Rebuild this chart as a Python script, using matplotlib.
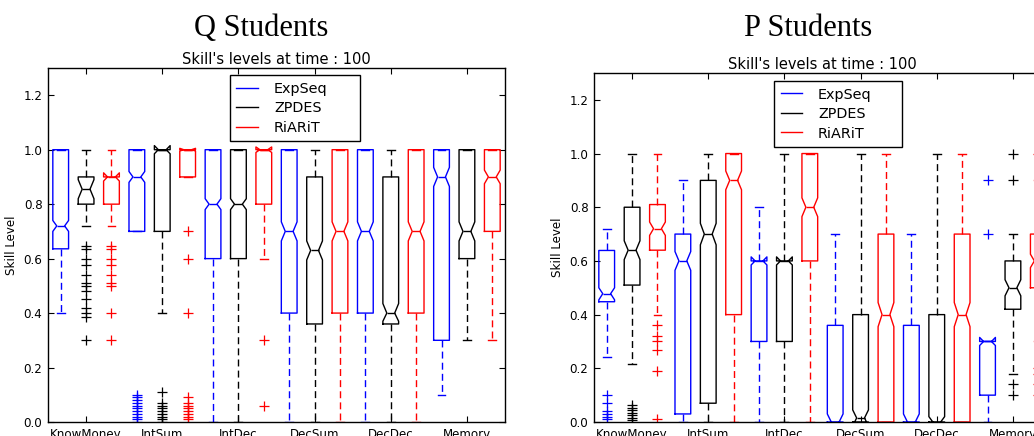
import matplotlib
matplotlib.use("Agg")
import matplotlib.pyplot as plt
from matplotlib.lines import Line2D

skills = ["KnowMoney", "IntSum", "IntDec", "DecSum", "DecDec", "Memory"]
methods = ["ExpSeq", "ZPDES", "RiARiT"]
colors = ["blue", "black", "red"]

# ---- Q Students (order: skill-major, then ExpSeq, ZPDES, RiARiT) ----
q_med  = [0.72, 0.855, 0.90,  0.90, 1.00, 1.00,  0.80, 0.80, 1.00,  0.70, 0.63, 0.70,  0.70, 0.40, 0.70,  0.90, 0.70, 0.90]
q_q1   = [0.636, 0.80, 0.80,  0.70, 0.70, 0.90,  0.60, 0.60, 0.80,  0.40, 0.36, 0.40,  0.40, 0.36, 0.40,  0.30, 0.60, 0.70]
q_q3   = [1.00, 0.90, 0.90,   1.00, 1.00, 1.00,  1.00, 1.00, 1.00,  1.00, 0.90, 1.00,  1.00, 0.90, 1.00,  1.00, 1.00, 1.00]
q_lo   = [0.40, 0.72, 0.72,   0.70, 0.40, 0.90,  0.00, 0.00, 0.60,  0.00, 0.00, 0.00,  0.00, 0.00, 0.00,  0.10, 0.30, 0.30]
q_hi   = [1.00, 1.00, 1.00,   1.00, 1.00, 1.00,  1.00, 1.00, 1.00,  1.00, 1.00, 1.00,  1.00, 1.00, 1.00,  1.00, 1.00, 1.00]
q_cilo = [0.70, 0.82, 0.885,  0.88, 0.985, 0.995, 0.78, 0.78, 0.99, 0.665, 0.595, 0.665, 0.665, 0.37, 0.665, 0.865, 0.665, 0.875]
q_cihi = [0.74, 0.89, 0.915,  0.92, 1.015, 1.005, 0.82, 0.82, 1.01, 0.735, 0.665, 0.735, 0.735, 0.435, 0.735, 0.935, 0.735, 0.925]
q_fliers = [
    [],
    [0.645, 0.635, 0.60, 0.575, 0.54, 0.51, 0.50, 0.48, 0.45, 0.42, 0.40, 0.385, 0.30],
    [0.645, 0.635, 0.60, 0.575, 0.54, 0.51, 0.50, 0.40, 0.30],
    [0.10, 0.09, 0.08, 0.07, 0.06, 0.05, 0.04, 0.03, 0.02, 0.01, 0.0],
    [0.11, 0.07, 0.06, 0.05, 0.04, 0.03, 0.02, 0.01, 0.0],
    [0.70, 0.60, 0.40, 0.09, 0.07, 0.06, 0.05, 0.04, 0.03, 0.02, 0.01],
    [], [], [0.30, 0.06],
    [], [], [], [], [], [], [], [], [],
]

# ---- P Students ----
p_med  = [0.478, 0.64, 0.72,  0.60, 0.70, 0.90,  0.60, 0.60, 0.80,  0.00, 0.015, 0.40,  0.00, 0.00, 0.40,  0.30, 0.50, 0.60]
p_q1   = [0.448, 0.51, 0.64,  0.03, 0.07, 0.40,  0.30, 0.30, 0.60,  0.00, 0.00, 0.00,   0.00, 0.00, 0.00,  0.10, 0.42, 0.50]
p_q3   = [0.639, 0.80, 0.81,  0.70, 0.90, 1.00,  0.60, 0.60, 1.00,  0.36, 0.40, 0.70,   0.36, 0.40, 0.70,  0.30, 0.60, 0.70]
p_lo   = [0.241, 0.216, 0.40, 0.00, 0.00, 0.00,  0.00, 0.00, 0.00,  0.00, 0.00, 0.00,   0.00, 0.00, 0.00,  0.00, 0.18, 0.30]
p_hi   = [0.72, 1.00, 1.00,   0.90, 1.00, 1.00,  0.80, 1.00, 1.00,  0.70, 1.00, 1.00,   0.70, 1.00, 1.00,  0.30, 0.70, 0.90]
p_cilo = [0.455, 0.605, 0.695, 0.565, 0.66, 0.865, 0.585, 0.585, 0.765, -0.03, -0.015, 0.355, -0.03, -0.02, 0.355, 0.285, 0.47, 0.575]
p_cihi = [0.50, 0.675, 0.745, 0.635, 0.74, 0.935, 0.615, 0.615, 0.835, 0.03, 0.045, 0.445, 0.03, 0.02, 0.445, 0.315, 0.53, 0.625]
p_fliers = [
    [0.10, 0.07, 0.04, 0.03, 0.02, 0.01],
    [0.062, 0.052, 0.044, 0.034, 0.025, 0.015, 0.006],
    [0.36, 0.32, 0.30, 0.27, 0.19, 0.012],
    [], [], [],
    [], [], [],
    [], [], [],
    [], [], [],
    [0.90, 0.70],
    [1.00, 0.90, 0.14, 0.10],
    [1.00, 0.20, 0.18, 0.14, 0.10],
]

W, H = 1034, 436
fig = plt.figure(figsize=(W / 100, H / 100), dpi=100)

def px_ax(l, t, r, b):
    return [l / W, (H - b) / H, (r - l) / W, (b - t) / H]

def draw(ax, med, q1, q3, lo, hi, cilo, cihi, fliers, legend_box):
    n = len(med)
    for i in range(n):
        c = colors[i % 3]
        st = dict(med=med[i], q1=q1[i], q3=q3[i], whislo=lo[i], whishi=hi[i],
                  cilo=cilo[i], cihi=cihi[i], fliers=fliers[i])
        ax.bxp([st], positions=[i + 1], widths=0.62, shownotches=True,
               boxprops=dict(color=c, lw=1.0),
               whiskerprops=dict(color=c, lw=1.0, linestyle=(0, (5, 3))),
               capprops=dict(color=c, lw=1.0),
               medianprops=dict(color=c, lw=1.0),
               flierprops=dict(marker='+', markeredgecolor=c, markersize=6.5,
                               markeredgewidth=0.9, linestyle='none'),
               manage_ticks=False)
    ax.set_xlim(0.5, n + 0.5)
    ax.set_ylim(0, 1.3)
    ax.set_xticks([2, 5, 8, 11, 14, 17])
    ax.set_xticklabels(skills, fontsize=8.6)
    ax.set_yticks([0.0, 0.2, 0.4, 0.6, 0.8, 1.0, 1.2])
    ax.set_yticklabels(["0.0", "0.2", "0.4", "0.6", "0.8", "1.0", "1.2"], fontsize=8.6)
    ax.tick_params(direction='in', top=True, right=True, length=4, width=0.8, pad=4)
    ax.set_ylabel("Skill Level", fontsize=8.6, labelpad=4)
    ax.set_title("Skill's levels at time : 100", fontsize=10.5, pad=3)
    for s in ax.spines.values():
        s.set_linewidth(1.0)
    handles = [Line2D([], [], color=c, lw=1.0) for c in colors]
    leg = ax.legend(handles, methods, loc='upper left', bbox_to_anchor=legend_box,
                    mode='expand',
                    fontsize=10.4, frameon=True, fancybox=False, framealpha=1,
                    edgecolor='black', borderpad=0.45, labelspacing=0.38,
                    handlelength=1.5, handletextpad=1.1, borderaxespad=0)
    leg.get_frame().set_linewidth(1.0)

ax1 = fig.add_axes(px_ax(48, 68, 505, 422))
draw(ax1, q_med, q_q1, q_q3, q_lo, q_hi, q_cilo, q_cihi, q_fliers,
     (0.398, 0.794, 0.285, 0.186))

ax2 = fig.add_axes(px_ax(594, 73, 1051, 422))
draw(ax2, p_med, p_q1, p_q3, p_lo, p_hi, p_cilo, p_cihi, p_fliers,
     (0.394, 0.794, 0.281, 0.183))

fig.text(261 / W, (H - 36) / H, "Q Students", ha='center', va='baseline',
         fontsize=22, family='Liberation Serif')
fig.text(808 / W, (H - 36) / H, "P Students", ha='center', va='baseline',
         fontsize=22, family='Liberation Serif')

fig.savefig("out.png", dpi=100)
